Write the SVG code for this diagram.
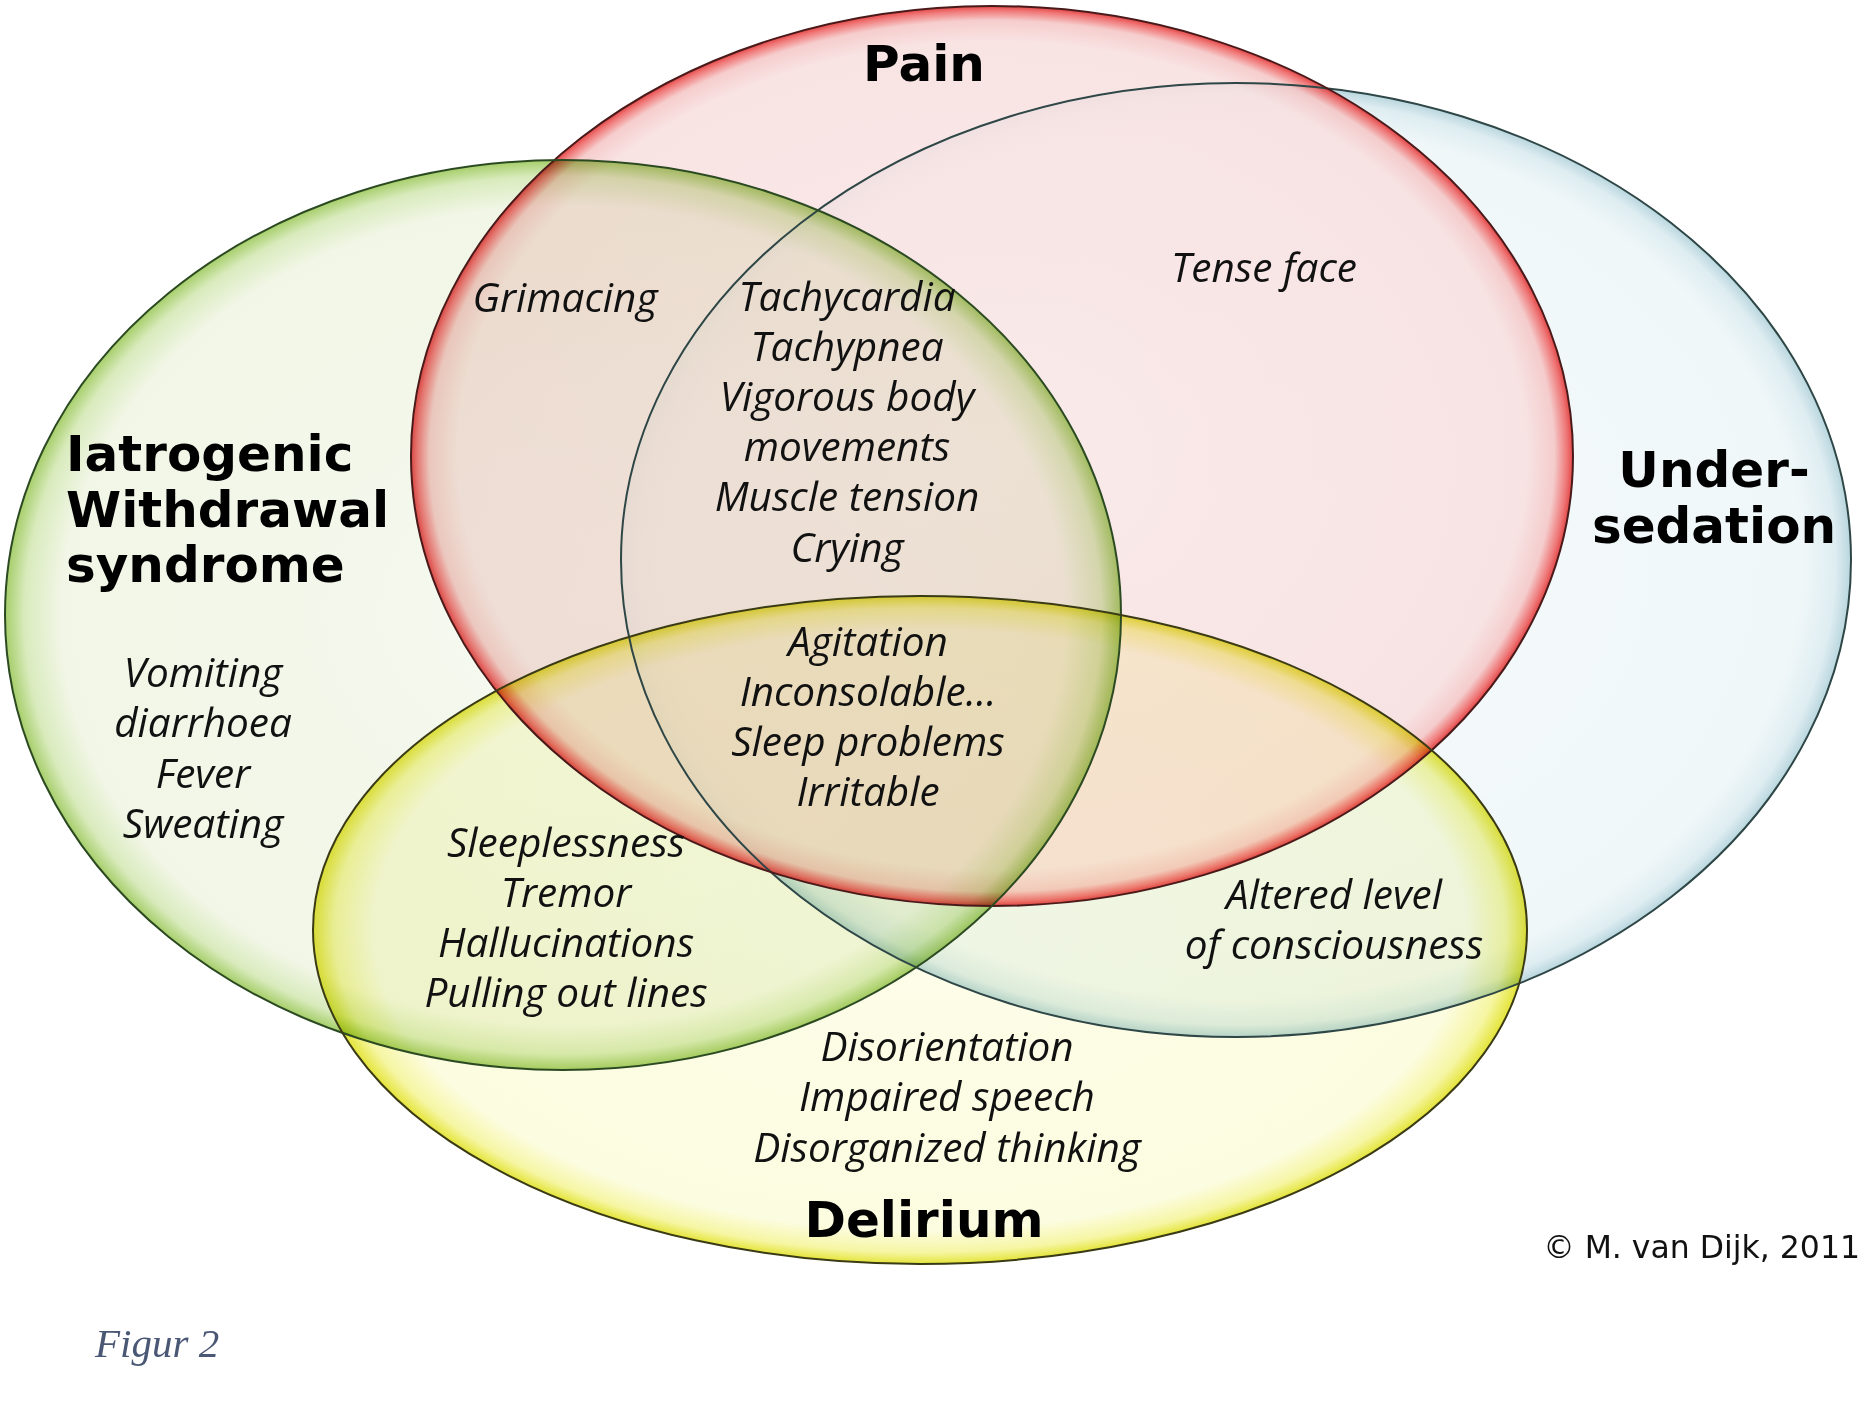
<svg xmlns="http://www.w3.org/2000/svg" width="1870" height="1420" viewBox="0 0 1870 1420">
<defs>
<radialGradient id="gPain">
<stop offset="0" stop-color="#fbe8e8"/>
<stop offset="0.92" stop-color="#f8e0e0"/>
<stop offset="0.968" stop-color="#f5c6c6"/>
<stop offset="0.99" stop-color="#ee6464"/>
<stop offset="1" stop-color="#e02e2e"/>
</radialGradient>
<radialGradient id="gSed">
<stop offset="0" stop-color="#f6fbfc"/>
<stop offset="0.92" stop-color="#f0f7f9"/>
<stop offset="0.975" stop-color="#deedf1"/>
<stop offset="1" stop-color="#b9d6de"/>
</radialGradient>
<radialGradient id="gIat">
<stop offset="0" stop-color="#f5f9f0"/>
<stop offset="0.9" stop-color="#f1f6e6"/>
<stop offset="0.965" stop-color="#d9ebbd"/>
<stop offset="1" stop-color="#a6ce6a"/>
</radialGradient>
<radialGradient id="gDel">
<stop offset="0" stop-color="#fdfdea"/>
<stop offset="0.9" stop-color="#fcfce0"/>
<stop offset="0.965" stop-color="#f6f6a4"/>
<stop offset="1" stop-color="#e4e43a"/>
</radialGradient>
</defs>
<style>
.fillm{mix-blend-mode:multiply}
.ol{fill:none;stroke-width:2}
.lab{font-family:"DejaVu Sans",Verdana,sans-serif;font-weight:bold;font-size:50px;fill:#000}
.it{font-family:"Open Sans","Noto Sans",sans-serif;font-style:italic;font-size:40.5px;fill:#111;text-anchor:middle;font-variant-ligatures:none}
.copy{font-family:"DejaVu Sans",Verdana,sans-serif;font-size:31.5px;fill:#111;text-anchor:end}
.fig{font-family:"Liberation Serif","DejaVu Serif",serif;font-style:italic;font-size:41px;fill:#4a5775}
</style>
<rect width="1870" height="1420" fill="#ffffff"/>
<g id="undersedation">
<ellipse cx="1236" cy="560" rx="615" ry="477" fill="url(#gSed)"/>
<text class="lab" x="1714" y="487" text-anchor="middle">Under-</text>
<text class="lab" x="1714" y="543" text-anchor="middle">sedation</text>
</g>
<g id="pain">
<ellipse cx="992" cy="456" rx="581" ry="450" fill="url(#gPain)" fill-opacity="0.88"/>
<text class="lab" x="924" y="81" text-anchor="middle">Pain</text>
</g>
<g id="iatrogenic">
<ellipse class="fillm" cx="563" cy="615" rx="558" ry="455" fill="url(#gIat)"/>
</g>
<g id="delirium">
<ellipse class="fillm" cx="920" cy="930" rx="607" ry="334" fill="url(#gDel)"/>
</g>
<g id="outlines">
<ellipse class="ol" cx="1236" cy="560" rx="615" ry="477" stroke="#2e4646"/>
<ellipse class="ol" cx="992" cy="456" rx="581" ry="450" stroke="#4a1a1a"/>
<ellipse class="ol" cx="563" cy="615" rx="558" ry="455" stroke="#2c4a22"/>
<ellipse class="ol" cx="920" cy="930" rx="607" ry="334" stroke="#3a3a14"/>
</g>
<g id="connectors"></g>
<g id="titles">
<text class="lab" x="66" y="471">Iatrogenic</text>
<text class="lab" x="66" y="527">Withdrawal</text>
<text class="lab" x="66" y="582">syndrome</text>
<text class="lab" x="924" y="1237" text-anchor="middle">Delirium</text>
</g>
<g id="region-texts">
<text class="it" x="565" y="312">Grimacing</text>
<text class="it" x="1264" y="282">Tense face</text>
<text class="it" x="847" y="311">Tachycardia</text>
<text class="it" x="847" y="361">Tachypnea</text>
<text class="it" x="847" y="411">Vigorous body</text>
<text class="it" x="847" y="461">movements</text>
<text class="it" x="847" y="511">Muscle tension</text>
<text class="it" x="847" y="562">Crying</text>
<text class="it" x="203" y="687">Vomiting</text>
<text class="it" x="203" y="737">diarrhoea</text>
<text class="it" x="203" y="788">Fever</text>
<text class="it" x="203" y="838">Sweating</text>
<text class="it" x="868" y="656">Agitation</text>
<text class="it" x="868" y="706">Inconsolable…</text>
<text class="it" x="868" y="756">Sleep problems</text>
<text class="it" x="868" y="806">Irritable</text>
<text class="it" x="566" y="857">Sleeplessness</text>
<text class="it" x="566" y="907">Tremor</text>
<text class="it" x="566" y="957">Hallucinations</text>
<text class="it" x="566" y="1007">Pulling out lines</text>
<text class="it" x="1334" y="909">Altered level</text>
<text class="it" x="1334" y="959">of consciousness</text>
<text class="it" x="947" y="1061">Disorientation</text>
<text class="it" x="947" y="1111">Impaired speech</text>
<text class="it" x="947" y="1162">Disorganized thinking</text>
</g>
<text class="copy" x="1860" y="1258">© M. van Dijk, 2011</text>
<text class="fig" x="95" y="1357">Figur 2</text>
</svg>
